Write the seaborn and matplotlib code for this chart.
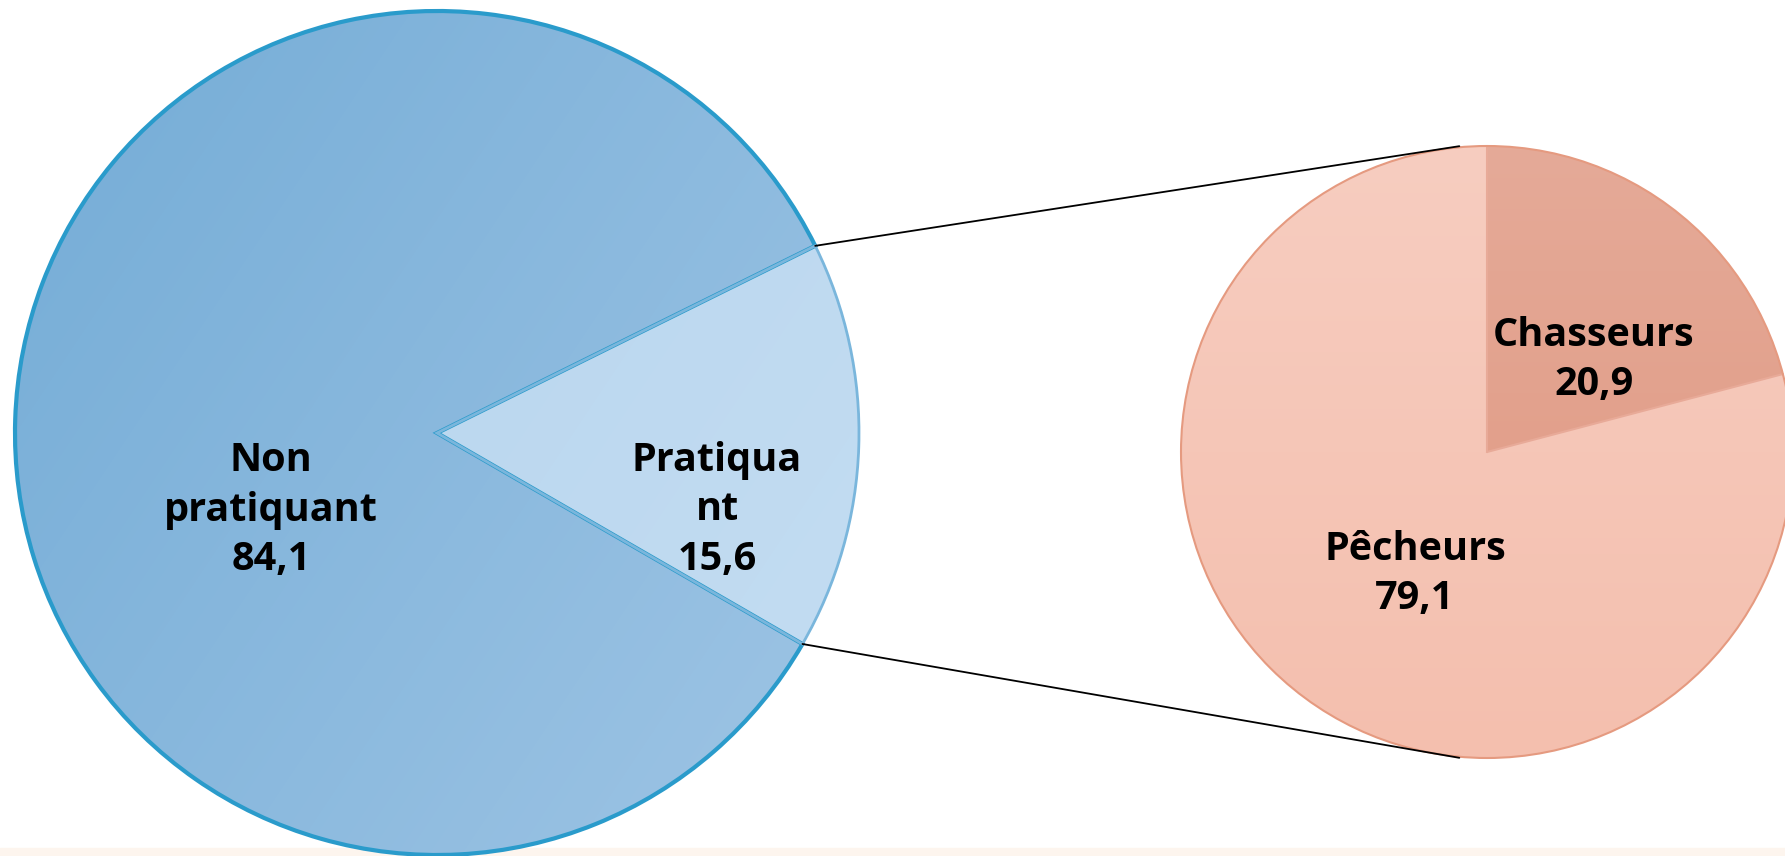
import numpy as np
import matplotlib
matplotlib.use("Agg")
import matplotlib.pyplot as plt
from matplotlib.patches import Rectangle, Circle, Wedge
from matplotlib.colors import LinearSegmentedColormap
import seaborn as sns

# ---- data ----
main_labels = ["Pratiqua\nnt", "Non\npratiquant"]
main_values = [15.6, 84.1]
sub_labels = ["Chasseurs", "Pêcheurs"]
sub_values = [20.9, 79.1]
value_text_main = ["15,6", "84,1"]
value_text_sub = ["20,9", "79,1"]

sns.set_theme(style="white")
plt.rcParams['font.family'] = ['Open Sans', 'DejaVu Sans']

W, H = 1785, 856
fig = plt.figure(figsize=(W / 100, H / 100), dpi=100)
ax = fig.add_axes([0, 0, 1, 1])

# beige strip at the bottom
ax.add_patch(Rectangle((0, 0), W, 8, color="#fdf5ee", zorder=0))

# main pie
c1 = (437, H - 433)
r1 = 422
tot1 = sum(main_values)
ang1 = 360 * main_values[0] / tot1
start1 = -30.0
wedges1, _ = ax.pie(main_values, center=c1, radius=r1, startangle=start1,
                    colors=["#bad7ef", "#86b5da"], counterclock=True,
                    wedgeprops=dict(edgecolor="none", linewidth=0),
                    frame=True)
gx = np.linspace(0, 1, 200)
GX, GY = np.meshgrid(gx, gx)
G = 0.6 * GX + 0.4 * GY
cm_non = LinearSegmentedColormap.from_list("non", ["#74acd6", "#9fc5e5"])
cm_pra = LinearSegmentedColormap.from_list("pra", ["#b4d3ed", "#c4ddf2"])
for w, cm in zip(wedges1, [cm_pra, cm_non]):
    im = ax.imshow(G, cmap=cm, extent=(c1[0] - r1, c1[0] + r1, c1[1] - r1, c1[1] + r1),
                   origin='upper', zorder=w.get_zorder() + 0.1, interpolation='bilinear')
    im.set_clip_path(w)
# outer rim
ax.add_patch(Wedge(c1, r1, start1 + ang1, start1 + 360, fill=False,
                   edgecolor="#2a9bcb", linewidth=3, zorder=5))
ax.add_patch(Wedge(c1, r1, start1, start1 + ang1, fill=False,
                   edgecolor="#7ab6dc", linewidth=2, zorder=5))
for a in [start1, start1 + ang1]:
    t = np.deg2rad(a)
    ax.plot([c1[0], c1[0] + r1 * np.cos(t)], [c1[1], c1[1] + r1 * np.sin(t)],
            color="#a3c9e7", lw=2.0, zorder=4.5)

# sub pie
c2 = (1487, H - 452)
r2 = 306
wedges2, _ = ax.pie(sub_values, center=c2, radius=r2, startangle=90, counterclock=False,
                    colors=["#e3a28e", "#f6c6b7"],
                    wedgeprops=dict(edgecolor="none", linewidth=0), frame=True)
cm_ch = LinearSegmentedColormap.from_list("ch", ["#e5aa98", "#df967f"])
cm_pe = LinearSegmentedColormap.from_list("pe", ["#f7cdc0", "#f4bfae"])
GV = np.tile(np.linspace(0, 1, 200).reshape(-1, 1), (1, 200))
for w, cm in zip(wedges2, [cm_ch, cm_pe]):
    im = ax.imshow(GV, cmap=cm, extent=(c2[0] - r2, c2[0] + r2, c2[1] - r2, c2[1] + r2),
                   origin='upper', zorder=w.get_zorder() + 0.1, interpolation='bilinear')
    im.set_clip_path(w)
for a in [90, 90 - 360 * sub_values[0] / sum(sub_values)]:
    t = np.deg2rad(a)
    ax.plot([c2[0], c2[0] + r2 * np.cos(t)], [c2[1], c2[1] + r2 * np.sin(t)],
            color="#e8aa98", lw=1.5, zorder=4.5)
ax.add_patch(Circle(c2, r2, fill=False, edgecolor="#e59a80", lw=1.5, zorder=5))

# connector lines
for a1, a2 in [(start1 + ang1, 92), (start1, 268)]:
    t1, t2 = np.deg2rad(a1), np.deg2rad(a2)
    ax.plot([c1[0] + r1 * np.cos(t1), c2[0] + r2 * np.cos(t2) - 17],
            [c1[1] + r1 * np.sin(t1), c2[1] + r2 * np.sin(t2)],
            color="black", lw=1.3, zorder=6)

ax.set_xlim(0, W)
ax.set_ylim(0, H)
ax.set_aspect('equal')
ax.axis('off')

fs = 28.5
tk = dict(ha='center', va='center', fontsize=fs, fontweight='bold', color='black',
          zorder=10, linespacing=1.36)
ax.text(271, H - 510, f"{main_labels[1]}\n{value_text_main[1]}", **tk)
ax.text(717, H - 510, f"{main_labels[0]}\n{value_text_main[0]}", **tk)
ax.text(1594, H - 360, f"{sub_labels[0]}\n{value_text_sub[0]}", **tk)
ax.text(1415, H - 574, f"{sub_labels[1]}\n{value_text_sub[1]}", **tk)

fig.savefig("out.png", dpi=100, facecolor="white")
